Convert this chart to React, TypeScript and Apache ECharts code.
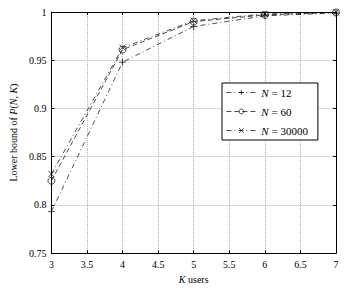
import React, { useEffect, useRef } from "react";
import * as echarts from "echarts";

const kValues = [3, 4, 5, 6, 7];
const seriesNames = ["N = 12", "N = 60", "N = 30000"];
const n12 = [0.793, 0.948, 0.985, 0.996, 0.999];
const n60 = [0.825, 0.961, 0.99, 0.997, 0.9995];
const n30000 = [0.832, 0.963, 0.991, 0.998, 0.9998];

const FONT = "'Liberation Serif', 'DejaVu Serif', serif";
const PLUS = "path://M5,0L5,10M0,5L10,5";
const CROSS = "path://M0,0L10,10M0,10L10,0";

export default function App() {
  const ref = useRef<HTMLDivElement>(null);
  useEffect(() => {
    document.body.style.margin = "0";
    const chart = echarts.init(ref.current!, undefined, { renderer: "svg" });
    const mk = (vals: number[]) => kValues.map((k, i) => [k, vals[i]]);
    const axisLine = { show: true, lineStyle: { color: "#000", width: 1 } };
    const tick = { show: true, inside: true, length: 3, lineStyle: { color: "#000" } };
    const split = { show: true, lineStyle: { type: "dotted" as const, color: "#b0b0b0", width: 1 } };
    const lbl = { fontFamily: FONT, fontSize: 10, color: "#000" };
    const rich = { i: { fontStyle: "italic" as const, fontFamily: FONT, fontSize: 10, color: "#000" }, r: { fontFamily: FONT, fontSize: 10, color: "#000" } };
    const lrich = { i: { fontStyle: "italic" as const, fontFamily: FONT, fontSize: 11, color: "#000" }, r: { fontFamily: FONT, fontSize: 11, color: "#000" } };
    chart.setOption({
      animation: false,
      backgroundColor: "#fff",
      textStyle: { fontFamily: FONT },
      grid: { left: 44, right: 11, top: 12, bottom: 28, containLabel: false },
      xAxis: [
        {
          type: "value", min: 3, max: 7, interval: 0.5,
          axisLine, axisTick: tick, splitLine: split,
          axisLabel: { ...lbl, margin: 6 },
          name: "{i|K}{r| users}", nameLocation: "middle", nameGap: 17,
          nameTextStyle: { fontFamily: FONT, fontSize: 10, color: "#000", rich },
        },
        {
          type: "value", min: 3, max: 7, interval: 0.5, position: "top",
          axisLine, axisTick: tick, splitLine: { show: false }, axisLabel: { show: false },
        },
      ],
      yAxis: [
        {
          type: "value", min: 0.75, max: 1, interval: 0.05,
          axisLine, axisTick: tick, splitLine: split,
          axisLabel: { ...lbl, margin: 5, formatter: (v: number) => String(Math.round(v * 100) / 100) },
          name: "{r|Lower bound of }{i|P}{r|(}{i|N}{r|, }{i|K}{r|)}", nameLocation: "middle", nameGap: 30, nameRotate: 90,
          nameTextStyle: { fontFamily: FONT, fontSize: 10, color: "#000", rich },
        },
        {
          type: "value", min: 0.75, max: 1, interval: 0.05, position: "right",
          axisLine, axisTick: tick, splitLine: { show: false }, axisLabel: { show: false },
        },
      ],
      legend: {
        orient: "vertical",
        left: 222, top: 83,
        itemWidth: 30, itemHeight: 6, itemGap: 8,
        padding: [4, 10, 4, 4],
        borderColor: "#000", borderWidth: 1, backgroundColor: "#fff",
        lineStyle: { width: 0.7 },
        itemStyle: { borderWidth: 0.7 },
        textStyle: { fontFamily: FONT, fontSize: 11, color: "#000", rich: lrich },
        formatter: (name: string) => "{i|N}{r|" + name.slice(1) + "}",
        data: seriesNames,
      },
      series: [
        {
          name: seriesNames[0], type: "line", data: mk(n12),
          symbol: PLUS, symbolSize: 7,
          lineStyle: { color: "#000", width: 0.7, type: [5, 3, 1, 3] },
          itemStyle: { color: "#000", borderColor: "#000", borderWidth: 0.7 },
        },
        {
          name: seriesNames[1], type: "line", data: mk(n60),
          symbol: "circle", symbolSize: 7,
          lineStyle: { color: "#000", width: 0.7, type: [5, 3] },
          itemStyle: { color: "transparent", borderColor: "#000", borderWidth: 0.7 },
        },
        {
          name: seriesNames[2], type: "line", data: mk(n30000),
          symbol: CROSS, symbolSize: 6,
          lineStyle: { color: "#000", width: 0.7, type: [5, 3, 1, 3] },
          itemStyle: { color: "#000", borderColor: "#000", borderWidth: 0.7 },
        },
      ],
    });
    return () => chart.dispose();
  }, []);
  return <div ref={ref} style={{ width: 347, height: 289 }} />;
}
